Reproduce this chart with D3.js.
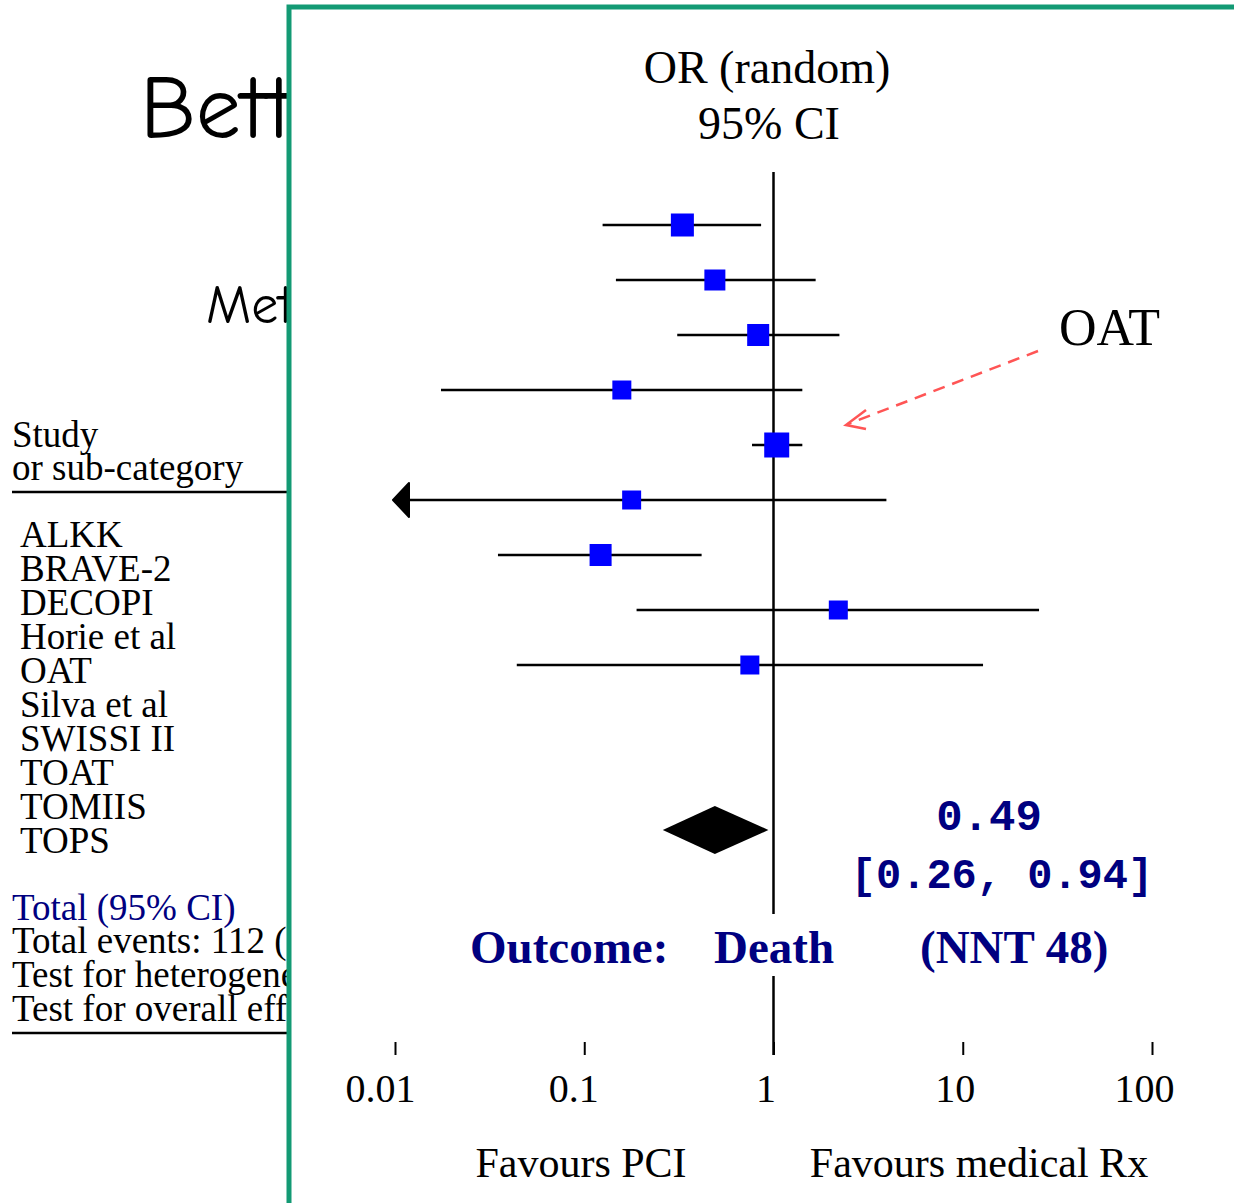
<!DOCTYPE html>
<html>
<head>
<meta charset="utf-8">
<script src="https://cdn.jsdelivr.net/npm/d3@7"></script>
<style>
body { margin: 0; background: #fff; }
svg { display: block; }
</style>
</head>
<body>
<script>
var w = 1234;
var h = 1203;

// study list printed on the slide
var studies = ["ALKK", "BRAVE-2", "DECOPI", "Horie et al", "OAT",
               "Silva et al", "SWISSI II", "TOAT", "TOMIIS", "TOPS"];
var footLines = ["Total events: 112 (PCI)", "Test for heterogeneity",
                 "Test for overall effect"];

// forest plot rows (odds ratio, 95% CI, weight %)
var orPoint = [0.33, 0.49, 0.83, 0.158, 1.04, 0.178, 0.122, 2.2, 0.75];
var ciLow   = [0.125, 0.147, 0.31, 0.0175, 0.77, 0.005, 0.035, 0.189, 0.044];
var ciHigh  = [0.86, 1.67, 2.23, 1.42, 1.42, 3.95, 0.417, 25.3, 12.8];
var weights = [13.2, 11.0, 12.1, 9.0, 15.6, 9.0, 12.1, 9.0, 9.0];

var pooled = [0.26, 0.49, 0.94];
var tickVals = [0.01, 0.1, 1, 10, 100];
var tickLabels = ["0.01", "0.1", "1", "10", "100"];

var serif = "'Liberation Serif', 'Times New Roman', serif";
var navy = "#000080";

var svg = d3.select("body").append("svg")
    .attr("width", w)
    .attr("height", h);

svg.append("rect").attr("width", w).attr("height", h).attr("fill", "#fff");

// slide behind the overlay
svg.append("text").text("Better than")
    .attr("x", 140).attr("y", 138)
    .attr("font-family", "'Comic Sans MS', 'Comic Neue', cursive")
    .attr("font-size", 90).attr("fill", "#000");
svg.append("text").text("Meta-analysis")
    .attr("x", 206).attr("y", 323)
    .attr("font-family", "'Comic Sans MS', 'Comic Neue', cursive")
    .attr("font-size", 54).attr("fill", "#000");

svg.append("text").text("Study")
    .attr("x", 12).attr("y", 447)
    .attr("font-family", serif).attr("font-size", 37);
svg.append("text").text("or sub-category")
    .attr("x", 12).attr("y", 480)
    .attr("font-family", serif).attr("font-size", 37);
svg.append("line")
    .attr("x1", 12).attr("x2", 300).attr("y1", 492).attr("y2", 492)
    .attr("stroke", "#000").attr("stroke-width", 2.5);

svg.selectAll("text.study")
    .data(studies)
    .enter()
    .append("text")
    .attr("class", "study")
    .attr("x", 20)
    .attr("y", function(d, i) { return 547 + i * 34; })
    .attr("font-family", serif)
    .attr("font-size", 37)
    .text(function(d) { return d; });

svg.append("text").text("Total (95% CI)")
    .attr("x", 12).attr("y", 920)
    .attr("font-family", serif).attr("font-size", 37).attr("fill", navy);
svg.selectAll("text.foot")
    .data(footLines)
    .enter()
    .append("text")
    .attr("class", "foot")
    .attr("x", 12)
    .attr("y", function(d, i) { return 953 + i * 34; })
    .attr("font-family", serif)
    .attr("font-size", 37)
    .text(function(d) { return d; });
svg.append("line")
    .attr("x1", 12).attr("x2", 300).attr("y1", 1033).attr("y2", 1033)
    .attr("stroke", "#000").attr("stroke-width", 2.5);

// overlay box
svg.append("rect")
    .attr("x", 289).attr("y", 7)
    .attr("width", 1000).attr("height", 1260)
    .attr("fill", "#fff")
    .attr("stroke", "#139a74")
    .attr("stroke-width", 5);

var xScale = d3.scaleLog()
    .domain([0.01, 100])
    .range([395, 1152]);

var yScale = d3.scaleLinear()
    .domain([0, 11])
    .range([225, 830]);

var sScale = d3.scaleSqrt()
    .domain([0, d3.max(weights)])
    .range([0, 25]);

svg.append("text").text("OR (random)")
    .attr("x", 767).attr("y", 83)
    .attr("text-anchor", "middle")
    .attr("font-family", serif).attr("font-size", 46);
svg.append("text").text("95% CI")
    .attr("x", 769).attr("y", 139)
    .attr("text-anchor", "middle")
    .attr("font-family", serif).attr("font-size", 46);

// line of no effect
svg.append("line")
    .attr("x1", xScale(1)).attr("x2", xScale(1))
    .attr("y1", 172).attr("y2", 1055)
    .attr("stroke", "#000").attr("stroke-width", 2.5);

var rows = d3.range(orPoint.length);

svg.selectAll("line.ci")
    .data(rows)
    .enter()
    .append("line")
    .attr("class", "ci")
    .attr("x1", function(i) { return xScale(Math.max(ciLow[i], 0.01)) + (ciLow[i] < 0.01 ? 12 : 0); })
    .attr("x2", function(i) { return xScale(Math.min(ciHigh[i], 100)); })
    .attr("y1", function(i) { return yScale(i); })
    .attr("y2", function(i) { return yScale(i); })
    .attr("stroke", "#000")
    .attr("stroke-width", 2.5);

// arrows for intervals running off the scale
svg.selectAll("path.arrow")
    .data(rows.filter(function(i) { return ciLow[i] < 0.01; }))
    .enter()
    .append("path")
    .attr("class", "arrow")
    .attr("d", function(i) {
        var x0 = xScale(0.01) - 2, y0 = yScale(i);
        return "M" + x0 + "," + y0 + "L" + (x0 + 16) + "," + (y0 - 17) +
               "L" + (x0 + 16) + "," + (y0 + 17) + "Z";
    })
    .attr("fill", "#000")
    .attr("stroke", "#000")
    .attr("stroke-linejoin", "round")
    .attr("stroke-width", 2);

svg.selectAll("rect.box")
    .data(rows)
    .enter()
    .append("rect")
    .attr("class", "box")
    .attr("x", function(i) { return xScale(orPoint[i]) - sScale(weights[i]) / 2; })
    .attr("y", function(i) { return yScale(i) - sScale(weights[i]) / 2; })
    .attr("width", function(i) { return sScale(weights[i]); })
    .attr("height", function(i) { return sScale(weights[i]); })
    .attr("fill", "#0000ff");

// pooled diamond
var dy = yScale(11);
svg.append("path")
    .attr("d", "M" + xScale(pooled[0]) + "," + dy +
               "L" + xScale(pooled[1]) + "," + (dy - 24) +
               "L" + xScale(pooled[2]) + "," + dy +
               "L" + xScale(pooled[1]) + "," + (dy + 24) + "Z")
    .attr("fill", "#000");

svg.append("text").text(d3.format(".2f")(pooled[1]))
    .attr("x", 989).attr("y", 830)
    .attr("text-anchor", "middle")
    .attr("font-family", "'Liberation Mono', 'Courier New', monospace")
    .attr("font-weight", "bold")
    .attr("font-size", 44)
    .attr("fill", navy);
svg.append("text").text("[" + pooled[0].toFixed(2) + ", " + pooled[2].toFixed(2) + "]")
    .attr("x", 1002).attr("y", 888)
    .attr("text-anchor", "middle")
    .attr("font-family", "'Liberation Mono', 'Courier New', monospace")
    .attr("font-weight", "bold")
    .attr("font-size", 42)
    .attr("fill", navy);

// outcome label
svg.append("rect")
    .attr("x", 762).attr("y", 914).attr("width", 22).attr("height", 62)
    .attr("fill", "#fff");
var outcome = [["Outcome:", 470], ["Death", 714], ["(NNT 48)", 920]];
svg.selectAll("text.outcome")
    .data(outcome)
    .enter()
    .append("text")
    .attr("class", "outcome")
    .attr("x", function(d) { return d[1]; })
    .attr("y", 963)
    .attr("font-family", serif)
    .attr("font-weight", "bold")
    .attr("font-size", 47)
    .attr("fill", navy)
    .text(function(d) { return d[0]; });

// OAT annotation
svg.append("text").text("OAT")
    .attr("x", 1059).attr("y", 345)
    .attr("font-family", serif).attr("font-size", 52);
svg.append("line")
    .attr("x1", 1038).attr("y1", 351).attr("x2", 848).attr("y2", 424)
    .attr("stroke", "#ff5555").attr("stroke-width", 2.5)
    .attr("stroke-dasharray", "12,8");
svg.append("path")
    .attr("d", "M866,410L846,425L866,429")
    .attr("fill", "none")
    .attr("stroke", "#ff5555").attr("stroke-width", 2.5);

// axis
var xAxis = d3.axisBottom(xScale)
    .tickValues(tickVals)
    .tickFormat(function(d, i) { return tickLabels[i]; })
    .tickSize(13)
    .tickPadding(19);

var gx = svg.append("g")
    .attr("transform", "translate(0,1042)")
    .call(xAxis);
gx.select(".domain").remove();
gx.selectAll(".tick line").attr("stroke", "#000").attr("stroke-width", 2);
gx.selectAll(".tick text")
    .attr("font-family", serif)
    .attr("font-size", 40)
    .attr("fill", "#000")
    .attr("dx", function(d, i) { return i === 0 ? -15 : (i === 1 ? -11 : -8); });

svg.append("text").text("Favours PCI")
    .attr("x", 581).attr("y", 1177)
    .attr("text-anchor", "middle")
    .attr("font-family", serif).attr("font-size", 42);
svg.append("text").text("Favours medical Rx")
    .attr("x", 979).attr("y", 1177)
    .attr("text-anchor", "middle")
    .attr("font-family", serif).attr("font-size", 42);
</script>
</body>
</html>
